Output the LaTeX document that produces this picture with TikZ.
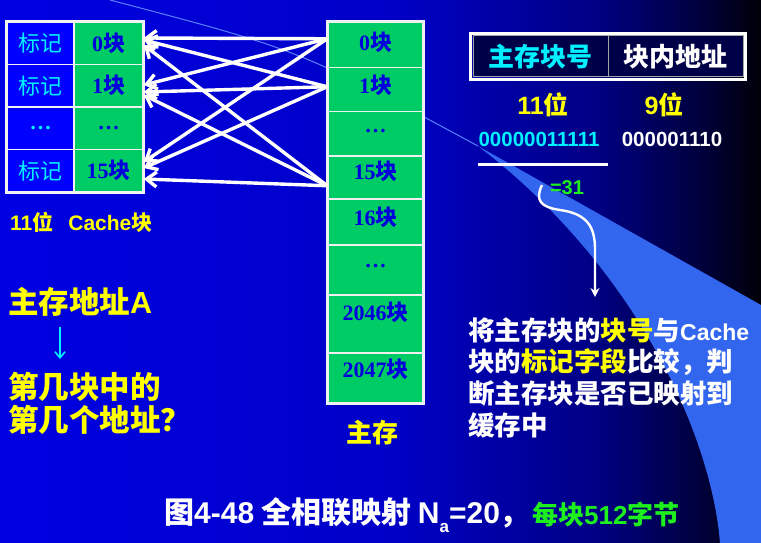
\documentclass[tikz,border=0pt]{standalone}
\usepackage{fontspec}
\setmainfont{Noto Sans CJK SC}
\newfontfamily\lat{Liberation Sans}
\newfontfamily\ser{Liberation Serif}
\usetikzlibrary{arrows.meta}
\definecolor{wedgeC}{RGB}{51,102,238}
\definecolor{faintC}{RGB}{90,130,255}
\definecolor{tagblue}{RGB}{0,0,255}
\definecolor{memgreen}{RGB}{0,204,102}
\definecolor{celltext}{RGB}{0,0,220}
\definecolor{cyanT}{RGB}{0,240,255}
\definecolor{yel}{RGB}{255,255,0}
\definecolor{grn}{RGB}{30,240,30}
\definecolor{navy}{RGB}{0,0,72}
\pgfdeclarehorizontalshading{bgsh}{100bp}{rgb(0bp)=(0,0,0.89); rgb(25bp)=(0,0,0.89); rgb(51bp)=(0,0,0.78); rgb(64bp)=(0,0,0.52); rgb(71bp)=(0,0,0.24); rgb(75bp)=(0,0,0.03); rgb(100bp)=(0,0,0.03)}
\newcommand\fs[1]{\fontsize{#1}{#1}\selectfont}
\newcommand\lt[1]{{\lat #1}}
\tikzset{
  tagcell/.style={fill=tagblue, draw=white!90!gray, line width=1.5pt, minimum width=67pt, minimum height=42.5pt, inner sep=0pt, text=cyanT, font=\fs{22}},
  blkcell/.style={fill=memgreen, draw=white!90!gray, line width=1.5pt, minimum width=69pt, minimum height=42.5pt, inner sep=0pt, text=celltext, font=\fs{22}\bfseries},
  mcell/.style={fill=memgreen, draw=white!88!gray, line width=1.5pt, minimum width=95pt, inner sep=0pt, anchor=north},
  mtext/.style={text=celltext, font=\fs{22}\bfseries, inner sep=0pt},
  warr/.style={white, line width=3.4pt, -{Straight Barb[length=10pt,width=15pt]}},
  hcell/.style={fill=navy, draw=gray!70, line width=1pt, minimum width=135pt, minimum height=41pt, inner sep=0pt, font=\fs{26}\bfseries},
  rt/.style={anchor=west, inner sep=0pt, text=white, font=\fs{26.5}\bfseries},
  lt/.style={anchor=west, inner sep=0pt, text=yel, font=\fs{30.5}\bfseries},
}
\newcommand\sd[1]{{\ser\bfseries #1}}
\begin{document}
\begin{tikzpicture}[x=1pt,y=-1pt]
\useasboundingbox (0,0) rectangle (761,543);
\shade[shading=bgsh] (0,0) rectangle (761,543);
% decorative swoosh
\fill[wedgeC] (478,146) -- (761,305) -- (761,543) -- (720,543)
   .. controls (712,440) and (640,270) .. (478,146) -- cycle;
\draw[faintC, line width=1pt] (110,0) .. controls (300,50) .. (478,146);

% cache
\node[tagcell] (t0) at (40.5,43.25) {标记};
\node[tagcell] (t1) at (40.5,85.75) {标记};
\node[tagcell] (t2) at (40.5,128.25) {\sd{\textellipsis}};
\node[tagcell] (t15) at (40.5,170.75) {标记};
\node[blkcell] (c0) at (108.5,43.25) {\sd{0}块};
\node[blkcell] (c1) at (108.5,85.75) {\sd{1}块};
\node[blkcell] (c2) at (108.5,128.25) {\sd{\textellipsis}};
\node[blkcell] (c15) at (108.5,170.75) {\sd{15}块};
\draw[white!90!gray, line width=3pt] (t0.north west) rectangle (c15.south east);

% main memory
\node[mcell, minimum height=45pt] (m0) at (375.5,22) {};
\node[mcell, minimum height=44pt] (m1) at (375.5,67) {};
\node[mcell, minimum height=44pt] (md1) at (375.5,111) {};
\node[mcell, minimum height=43pt] (m15) at (375.5,155) {};
\node[mcell, minimum height=46pt] (m16) at (375.5,198) {};
\node[mcell, minimum height=50pt] (md2) at (375.5,244) {};
\node[mcell, minimum height=58pt] (m2046) at (375.5,294) {};
\node[mcell, minimum height=50pt] (m2047) at (375.5,352) {};
\draw[white!88!gray, line width=3pt] (m0.north west) rectangle (m2047.south east);
\node[mtext] (m0t) at (375.5,42) {\sd{0}块};
\node[mtext] (m1t) at (375.5,85) {\sd{1}块};
\node[mtext] (md1t) at (375.5,131) {\sd{\textellipsis}};
\node[mtext] (m15t) at (375.5,171) {\sd{15}块};
\node[mtext] (m16t) at (375.5,217) {\sd{16}块};
\node[mtext] (md2t) at (375.5,266) {\sd{\textellipsis}};
\node[mtext] (m2046t) at (375.5,312) {\sd{2046}块};
\node[mtext] (m2047t) at (375.5,369) {\sd{2047}块};
\node[text=yel, font=\fs{26}\bfseries, inner sep=0pt] (mlabel) at (372,433) {主存};

% arrows main -> cache
\draw[warr] ([yshift=6.5pt]m0.west) -- ([yshift=5.25pt]c0.east);
\draw[warr] ([yshift=6.5pt]m0.west) -- ([yshift=0.75pt]c1.east);
\draw[warr] ([yshift=6.5pt]m0.west) -- ([yshift=8.75pt]c15.east);
\draw[warr] ([yshift=3pt]m1.west) -- ([yshift=3.25pt]c0.east);
\draw[warr] ([yshift=3pt]m1.west) -- ([yshift=-6.25pt]c1.east);
\draw[warr] ([yshift=3pt]m1.west) -- ([yshift=2.75pt]c15.east);
\draw[warr] ([yshift=-8.5pt]m15.west) -- ([yshift=-1.75pt]c0.east);
\draw[warr] ([yshift=-8.5pt]m15.west) -- ([yshift=-9.25pt]c1.east);
\draw[warr] ([yshift=-8.5pt]m15.west) -- ([yshift=-8.25pt]c15.east);

% left texts
\node[anchor=west, inner sep=0pt, text=yel, font=\fs{21}\bfseries] (cachelbl) at (10,222) {\lt{11}位\hspace{15pt}\lt{Cache}块};
\node[lt] (addrA) at (8,302) {主存地址\lt{A}};
\coordinate (qa) at (60,327);
\coordinate (qb) at (60,359);
\draw[cyanT, line width=1.6pt, -{Straight Barb[length=6pt,width=10pt]}] (qa) -- (qb);
\node[lt] (q1) at (8,387) {第几块中的};
\node[lt] (q2) at (8,420) {第几个地址？};

% address format
\node[hcell, text=cyanT] (h1) at (540.5,56.5) {主存块号};
\node[hcell, text=white] (h2) at (675.5,56.5) {块内地址};
\draw[white, line width=2.2pt] ([shift={(-2pt,2pt)}]h1.north west) rectangle ([shift={(2pt,-2pt)}]h2.south east);
\node[text=yel, font=\fs{25}\bfseries, inner sep=0pt] (b11) at (543,105) {\lt{11}位};
\node[text=yel, font=\fs{25}\bfseries, inner sep=0pt] (b9) at (664,105) {\lt{9}位};
\node[text=cyanT, font=\lat\fs{20.5}\bfseries, inner sep=0pt] (n1) at (539,139) {00000011111};
\node[text=white, font=\lat\fs{20.5}\bfseries, inner sep=0pt] (n2) at (672,139) {000001110};
\draw[white, line width=3pt] (n1.south west |- 0,164) coordinate (ul1) -- (608,164) coordinate (ul2);
\node[text=grn, font=\lat\fs{20}\bfseries, inner sep=0pt] (eq) at (567,188) {=31};
\coordinate (cs) at (542,185);
\coordinate (ce) at (595,297);
\draw[white, line width=2.4pt, -{Stealth[length=9pt,width=9pt]}] (cs) .. controls (535,200) and (540,207) .. (560,210) .. controls (590,214) and (595,230) .. (595,250) -- (ce);

% explanation
\node[rt] (r1) at (468,330) {将主存块的\textcolor{yel}{块号}与{\lat\fs{23}\bfseries Cache}};
\node[rt] (r2) at (468,362) {块的\textcolor{yel}{标记字段}比较，判};
\node[rt] (r3) at (468,393) {断主存块是否已映射到};
\node[rt] (r4) at (468,425) {缓存中};

% caption
\node[anchor=west, inner sep=0pt, text=white, font=\fs{30}\bfseries] (cap) at (164,515) {图\lt{4-48} 全相联映射 \lt{N\raisebox{-0.3em}{\fs{17}a}=20}，};
\node[anchor=west, inner sep=0pt, text=grn, font=\fs{26}\bfseries] (cap2) at (532,515) {每块\lt{512}字节};
\end{tikzpicture}
\end{document}
